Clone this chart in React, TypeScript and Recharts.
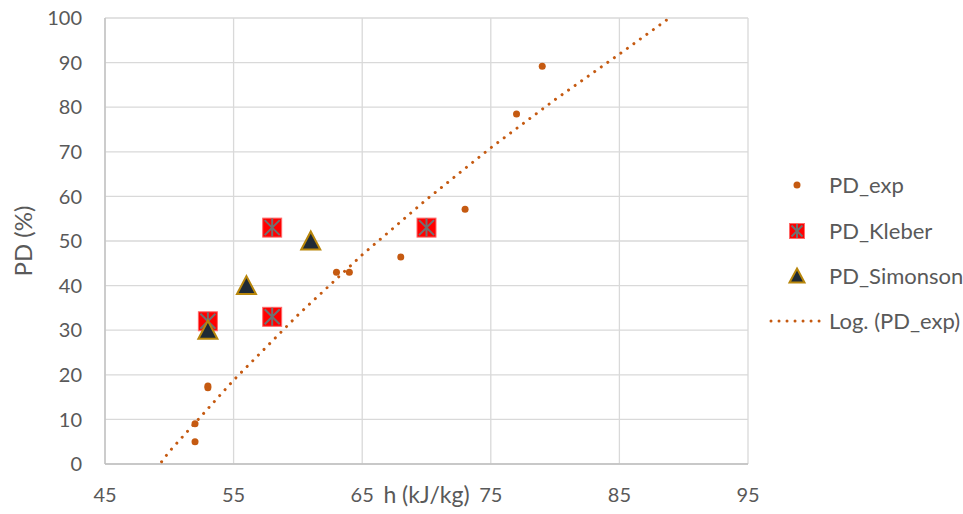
import React from 'react';
import { ScatterChart, Scatter, XAxis, YAxis, CartesianGrid } from 'recharts';

const FONT = 'Lato, "Open Sans", sans-serif';
const TEXT = '#595959';
const EXP_COLOR = '#C55A11';

const xTicks = [45, 55, 65, 75, 85, 95];
const yTicks = [0, 10, 20, 30, 40, 50, 60, 70, 80, 90, 100];

const expH = [52, 52, 53, 53, 63, 64, 68, 73, 77, 79];
const expPD = [5, 9, 17.1, 17.5, 43, 43, 46.4, 57.1, 78.5, 89.2];

const kleberH = [53, 58, 58, 70];
const kleberPD = [32, 33, 53, 53];

const simonsonH = [53, 56, 61];
const simonsonPD = [30, 40, 50];

// Logarithmic trendline of PD_exp
const trendH = [49.4, 50, 55, 60, 65, 70, 75, 80, 85, 88.7];
const trendPD = [0.5, 2.8, 18.8, 33.4, 46.9, 59.3, 70.9, 81.7, 91.9, 99.6];

const zip = (xs: number[], ys: number[]) => xs.map((x, i) => ({ x, y: ys[i] }));

const expData = zip(expH, expPD);
const kleberData = zip(kleberH, kleberPD);
const simonsonData = zip(simonsonH, simonsonPD);
const trendData = zip(trendH, trendPD);

const Dot = (props: any) => {
  const { cx, cy } = props;
  return <circle cx={cx} cy={cy} r={3.5} fill={EXP_COLOR} />;
};

const KleberMark = ({ cx, cy, s = 19 }: any) => {
  const h = s / 2;
  const d = h - 2;
  return (
    <g>
      <rect x={cx - h} y={cy - h} width={s} height={s} fill="#FF0000" stroke="#FF6A6A" strokeWidth={1} />
      <path
        d={`M${cx - d},${cy - d}L${cx + d},${cy + d}M${cx + d},${cy - d}L${cx - d},${cy + d}M${cx},${cy - h + 0.5}L${cx},${cy + h - 0.5}`}
        stroke="#707070"
        strokeWidth={2}
        fill="none"
      />
    </g>
  );
};

const TriMark = ({ cx, cy, s = 19 }: any) => {
  const h = s / 2;
  return (
    <polygon
      points={`${cx},${cy - h} ${cx + h},${cy + h - 1} ${cx - h},${cy + h - 1}`}
      fill="#1F2A36"
      stroke="#B8860B"
      strokeWidth={2}
      strokeLinejoin="miter"
    />
  );
};

const Empty = () => <g />;

const legendItems = ['PD_exp', 'PD_Kleber', 'PD_Simonson', 'Log. (PD_exp)'];

const Legend = () => {
  const rows = [185, 231, 276, 321];
  const iconX = 797;
  return (
    <svg width={963} height={514} style={{ position: 'absolute', left: 0, top: 0, pointerEvents: 'none' }}>
      <circle cx={iconX} cy={rows[0]} r={3.5} fill={EXP_COLOR} />
      <KleberMark cx={iconX} cy={rows[1]} s={15} />
      <TriMark cx={iconX} cy={rows[2]} s={15} />
      <line
        x1={771}
        y1={rows[3]}
        x2={822}
        y2={rows[3]}
        stroke={EXP_COLOR}
        strokeWidth={3}
        strokeDasharray="0.01 8"
        strokeLinecap="round"
      />
      {legendItems.map((t, i) => (
        <text key={t} x={829} y={rows[i]} dy="0.35em" fontFamily={FONT} fontSize={22} fill={TEXT}>
          {t}
        </text>
      ))}
    </svg>
  );
};

export default function App() {
  return (
    <div style={{ position: 'absolute', left: 0, top: 0, width: 963, height: 514, background: '#fff' }}>
      <ScatterChart width={963} height={514} margin={{ top: 18, right: 215, bottom: 0, left: 25 }}>
        <CartesianGrid stroke="#D9D9D9" strokeWidth={1.3} />
        <XAxis
          type="number"
          dataKey="x"
          domain={[45, 95]}
          ticks={xTicks}
          interval={0}
          allowDataOverflow
          height={50}
          axisLine={{ stroke: '#BFBFBF', strokeWidth: 1.3 }}
          tickLine={false}
          tickSize={0}
          tickMargin={24}
          tick={{ fill: TEXT, fontSize: 20, fontFamily: FONT }}
          label={{ value: 'h (kJ/kg)', position: 'insideBottom', offset: 11, fill: TEXT, fontSize: 23, fontFamily: FONT }}
        />
        <YAxis
          type="number"
          dataKey="y"
          domain={[0, 100]}
          ticks={yTicks}
          interval={0}
          allowDataOverflow
          width={80}
          axisLine={{ stroke: '#BFBFBF', strokeWidth: 1.3 }}
          tickLine={false}
          tickSize={0}
          tickMargin={23}
          tick={{ fill: TEXT, fontSize: 20, fontFamily: FONT }}
          label={{
            value: 'PD (%)',
            angle: -90,
            position: 'insideLeft',
            offset: -2,
            fill: TEXT,
            fontSize: 24,
            fontFamily: FONT,
            style: { textAnchor: 'middle' },
          }}
        />
        <Scatter
          name="Log. (PD_exp)"
          data={trendData}
          shape={Empty}
          line={{ stroke: EXP_COLOR, strokeWidth: 3, strokeDasharray: '0.01 8', strokeLinecap: 'round' }}
          isAnimationActive={false}
        />
        <Scatter name="PD_exp" data={expData} shape={Dot} isAnimationActive={false} />
        <Scatter name="PD_Kleber" data={kleberData} shape={(p: any) => <KleberMark cx={p.cx} cy={p.cy} />} isAnimationActive={false} />
        <Scatter name="PD_Simonson" data={simonsonData} shape={(p: any) => <TriMark cx={p.cx} cy={p.cy} />} isAnimationActive={false} />
      </ScatterChart>
      <Legend />
    </div>
  );
}
